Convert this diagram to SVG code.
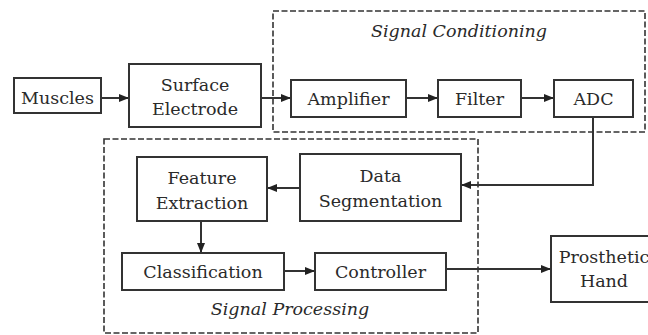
<svg xmlns="http://www.w3.org/2000/svg" width="648" height="335" viewBox="0 0 648 335">
<defs>
<style>
.box{fill:#fff;stroke:#333;stroke-width:2}
.grp{fill:none;stroke:#333;stroke-width:1.6;stroke-dasharray:6 2.5}
.t{font-family:'DejaVu Serif',serif;font-size:17.5px;fill:#2a2a2a;text-anchor:middle}
.it{font-style:italic}
.c{fill:none;stroke:#333;stroke-width:2}
</style>
<marker id="ah" markerWidth="10" markerHeight="8" refX="10" refY="4" orient="auto" markerUnits="userSpaceOnUse">
<path d="M0,0 L10,4 L0,8 Z" fill="#222"/>
</marker>
</defs>
<rect width="648" height="335" fill="#fff"/>
<g id="signal-conditioning">
<rect class="grp" x="273" y="11" width="372" height="121"/>
<text class="t it" x="459" y="37">Signal Conditioning</text>
</g>
<g id="signal-processing">
<rect class="grp" x="104" y="139" width="374" height="194"/>
<text class="t it" x="290" y="315">Signal Processing</text>
</g>
<g id="connectors">
<line class="c" x1="101" y1="98" x2="129" y2="98" marker-end="url(#ah)"/>
<line class="c" x1="261" y1="98" x2="291" y2="98" marker-end="url(#ah)"/>
<line class="c" x1="406" y1="98" x2="438" y2="98" marker-end="url(#ah)"/>
<line class="c" x1="521" y1="98" x2="554" y2="98" marker-end="url(#ah)"/>
<polyline class="c" points="593,117 593,185 461,185" marker-end="url(#ah)"/>
<line class="c" x1="300" y1="188" x2="267" y2="188" marker-end="url(#ah)"/>
<line class="c" x1="201" y1="221" x2="201" y2="253" marker-end="url(#ah)"/>
<line class="c" x1="284" y1="271" x2="315" y2="271" marker-end="url(#ah)"/>
<line class="c" x1="446" y1="269" x2="551" y2="269" marker-end="url(#ah)"/>
</g>
<g id="muscles">
<rect class="box" x="14" y="78" width="87" height="35"/>
<text class="t" x="57.5" y="104">Muscles</text>
</g>
<g id="surface-electrode">
<rect class="box" x="129" y="64" width="132" height="63"/>
<text class="t" x="195" y="91">Surface</text>
<text class="t" x="195" y="115">Electrode</text>
</g>
<g id="amplifier">
<rect class="box" x="291" y="80" width="115" height="37"/>
<text class="t" x="348.5" y="105">Amplifier</text>
</g>
<g id="filter">
<rect class="box" x="438" y="80" width="83" height="37"/>
<text class="t" x="479.5" y="105">Filter</text>
</g>
<g id="adc">
<rect class="box" x="554" y="80" width="79" height="37"/>
<text class="t" x="593.5" y="105">ADC</text>
</g>
<g id="data-segmentation">
<rect class="box" x="300" y="154" width="161" height="67"/>
<text class="t" x="380.5" y="182">Data</text>
<text class="t" x="380.5" y="207">Segmentation</text>
</g>
<g id="feature-extraction">
<rect class="box" x="137" y="157" width="130" height="64"/>
<text class="t" x="202" y="184">Feature</text>
<text class="t" x="202" y="209">Extraction</text>
</g>
<g id="classification">
<rect class="box" x="122" y="253" width="162" height="37"/>
<text class="t" x="203" y="278">Classification</text>
</g>
<g id="controller">
<rect class="box" x="315" y="253" width="131" height="37"/>
<text class="t" x="380.5" y="278">Controller</text>
</g>
<g id="prosthetic-hand">
<rect class="box" x="551" y="236" width="102" height="66"/>
<text class="t" x="604" y="263">Prosthetic</text>
<text class="t" x="604" y="287">Hand</text>
</g>
</svg>
